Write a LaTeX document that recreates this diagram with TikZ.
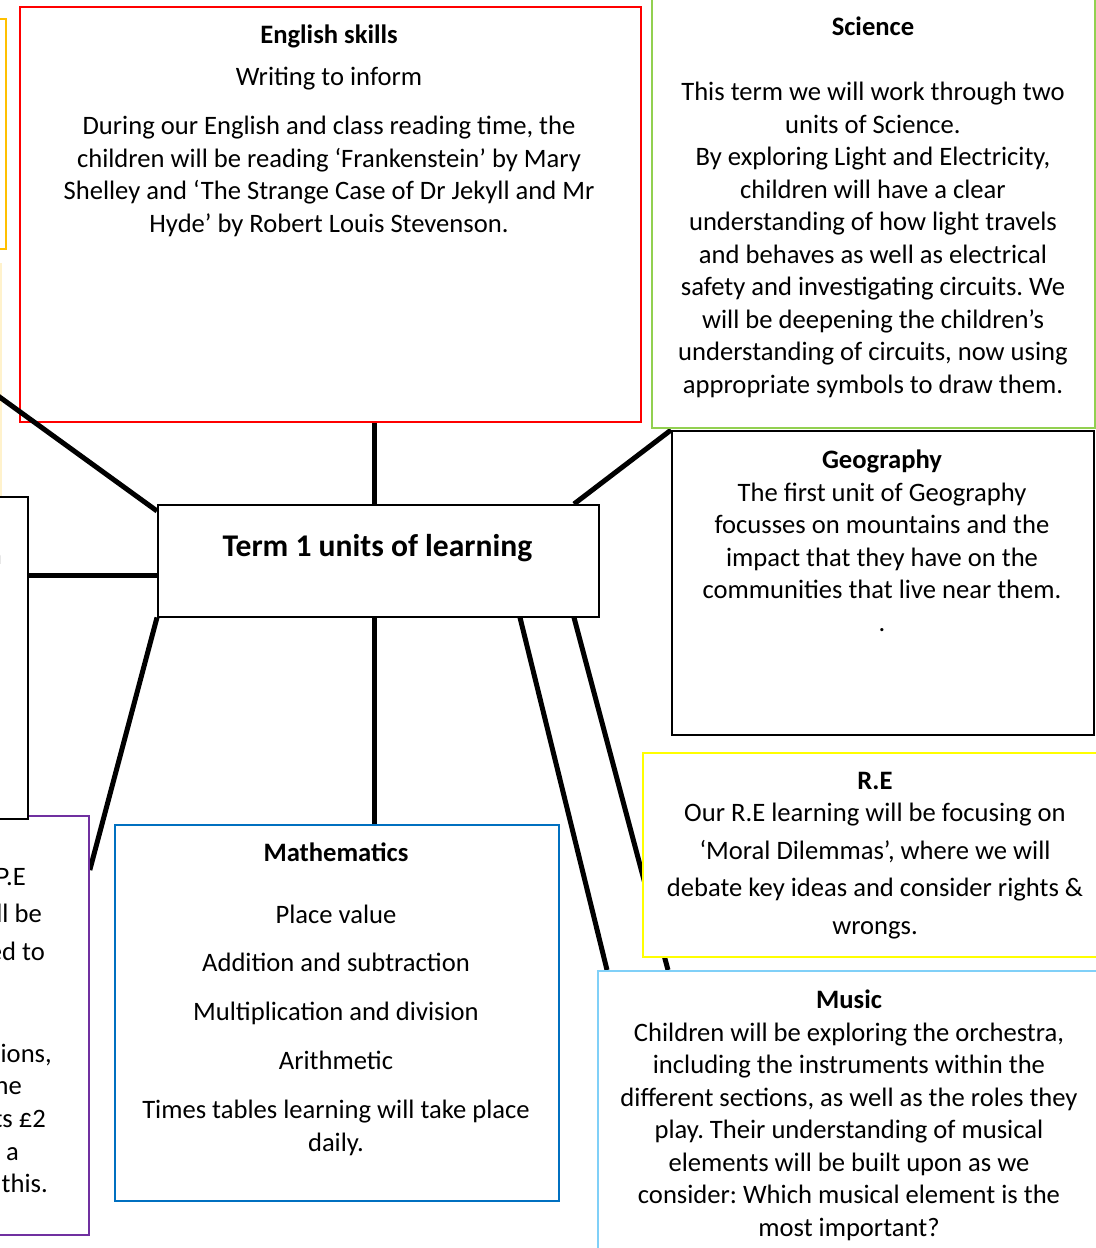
\documentclass[tikz,border=0pt]{standalone}
\usepackage{fontspec}
\setmainfont{Carlito}
\frenchspacing
\pgfdeclarelayer{bg}
\pgfsetlayers{bg,main}
\definecolor{cred}{HTML}{FF0000}
\definecolor{corange}{HTML}{FFC000}
\definecolor{ccream}{HTML}{FFF2CC}
\definecolor{cgreen}{HTML}{92D050}
\definecolor{cyellow}{HTML}{FFFF00}
\definecolor{clblue}{HTML}{80D0F8}
\definecolor{cblue}{HTML}{0070C0}
\definecolor{cpurple}{HTML}{7030A0}
\tikzset{
  box/.style={draw, line width=1.8bp, fill=white, inner sep=0pt, anchor=north west},
  conn/.style={line width=5bp, draw=black},
  txt/.style={align=center, inner sep=0pt, anchor=base, font=\fontsize{26.7}{32.6}\selectfont},
  frag/.style={inner sep=0pt, anchor=base east, font=\fontsize{26.7}{32.6}\selectfont},
}
\begin{document}
\begin{tikzpicture}[x=1bp,y=-1bp]
\useasboundingbox (0,0) rectangle (1096,1248);
\clip (0,0) rectangle (1096,1248);
% boxes
\node[box, draw=corange, minimum width=80bp, minimum height=230bp] (orange) at (-75,18) {};
\node[box, draw=ccream, minimum width=80bp, minimum height=232bp] (cream) at (-80,263) {};
\node[box, draw=cred, minimum width=621bp, minimum height=415bp] (eng) at (19,6) {};
\node[box, draw=cgreen, minimum width=443bp, minimum height=437bp] (sci) at (651,-10) {};
\node[box, draw=black, line width=1.5bp, minimum width=422bp, minimum height=304bp] (geo) at (671,430) {};
\node[box, draw=cyellow, minimum width=470bp, minimum height=204bp] (re) at (642,752) {};
\node[box, draw=clblue, minimum width=520bp, minimum height=300bp] (mus) at (597,970) {};
\node[box, draw=cblue, minimum width=444bp, minimum height=376bp] (math) at (114,824) {};
\node[box, draw=cpurple, minimum width=140bp, minimum height=419bp] (pe) at (-52,815) {};
\node[box, draw=black, line width=1.5bp, minimum width=79bp, minimum height=322bp] (lbox) at (-52,496) {};
\node[box, draw=black, line width=1.5bp, minimum width=441bp, minimum height=112bp] (ctr) at (157,504) {};
% helper coordinates
\coordinate (ax) at (374,0);
\coordinate (bx) at (574,0);
\coordinate (cx) at (520,0);
\coordinate (dx) at (607,0);
\coordinate (ex) at (668,0);
\coordinate (ly) at (0,511);
\coordinate (ly2) at (0,369);
\coordinate (my) at (0,575);
\coordinate (py) at (0,870);
% connectors behind boxes
\begin{pgfonlayer}{bg}
\draw[conn] (ctr.north -| ax) -- (eng.south -| ax);
\draw[conn] (ctr.south -| ax) -- (math.north -| ax);
\draw[conn] (ctr.north -| bx) -- (geo.north west);
\draw[conn] (ctr.west |- my) -- (lbox.east |- my);
\draw[conn] (ctr.south west) -- (pe.east |- py);
\draw[conn] (ctr.south -| cx) -- (mus.north -| dx);
\draw[conn] (ctr.south -| bx) -- (mus.north -| ex);
\end{pgfonlayer}
\draw[conn] (ctr.west |- ly) -- (cream.center |- ly2);
% texts (base anchor = baseline of the last line)
\node[inner sep=0pt, anchor=base, font=\fontsize{31.7}{37}\selectfont\bfseries] (ctrt) at (377.5,556) {Term 1 units of learning};
\node[txt] (engt) at (329,232) {\textbf{English skills}\\[9.4bp]
Writing to inform\\[16.4bp]
During our English and class reading time, the\\
children will be reading ‘Frankenstein’ by Mary\\
Shelley and ‘The Strange Case of Dr Jekyll and Mr\\
Hyde’ by Robert Louis Stevenson.};
\node[txt] (scit) at (873,393) {\textbf{Science}\\[32.4bp]
This term we will work through two\\
units of Science.\\
By exploring Light and Electricity,\\
children will have a clear\\
understanding of how light travels\\
and behaves as well as electrical\\
safety and investigating circuits. We\\
will be deepening the children’s\\
understanding of circuits, now using\\
appropriate symbols to draw them.};
\node[txt] (geot) at (882,631) {\textbf{Geography}\\
The first unit of Geography\\
focusses on mountains and the\\
impact that they have on the\\
communities that live near them.\\
.};
\node[txt, font=\fontsize{26.7}{37.5}\selectfont] (ret) at (875,934) {\textbf{R.E}\\[-4.5bp]
Our R.E learning will be focusing on\\
‘Moral Dilemmas’, where we will\\
debate key ideas and consider rights \&\\
wrongs.};
\node[txt] (must) at (849,1236) {\textbf{Music}\\
Children will be exploring the orchestra,\\
including the instruments within the\\
different sections, as well as the roles they\\
play. Their understanding of musical\\
elements will be built upon as we\\
consider: Which musical element is the\\
most important?};
\node[txt] (matht) at (336,1151) {\textbf{Mathematics}\\[29.4bp]
Place value\\[16.4bp]
Addition and subtraction\\[16.4bp]
Multiplication and division\\[16.4bp]
Arithmetic\\[16.4bp]
Times tables learning will take place\\
daily.};
% cut-off fragments on the left
\node[frag] (pe1) at (26,885) {P.E};
\node[frag] (pe2) at (42,922) {ll be};
\node[frag] (pe3) at (45,960) {ed to};
\node[frag] (pe4) at (52,1062) {ions,};
\node[frag] (pe5) at (22,1094) {ne};
\node[frag] (pe6) at (46,1127) {ts £2};
\node[frag] (pe7) at (19,1160) {e a};
\node[frag] (pe8) at (48,1192) {this.};
\node[frag] (lb1) at (2,564) {n};
\end{tikzpicture}
\end{document}
